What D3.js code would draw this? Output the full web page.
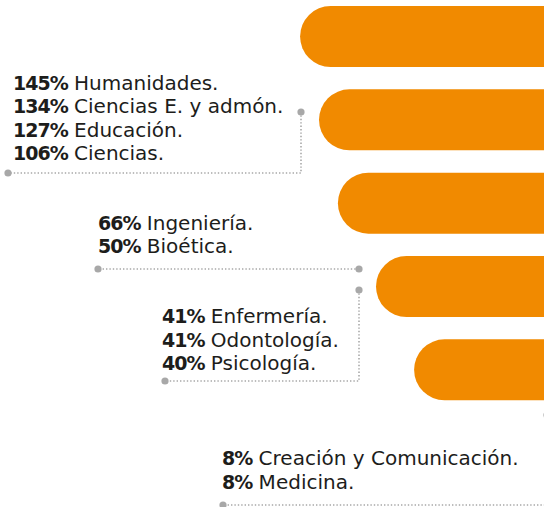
<!DOCTYPE html>
<html>
<head>
<meta charset="utf-8">
<script src="https://cdn.jsdelivr.net/npm/d3@7"></script>
<style>
  body { margin: 0; background: #fff; }
  svg { display: block; }
  text { font-family: "DejaVu Sans", sans-serif; fill: #1d1d1b; }
</style>
</head>
<body>
<div class="chart"></div>
<script>
// bars: visible length (share of a 0-100 scale)
var barIds = ["b1", "b2", "b3", "b4", "b5"];
var barValues = [81.3, 75, 68.7, 56, 43.3];

// programmes and their percentages, grouped by connector
var programs = ["Humanidades.", "Ciencias E. y admón.", "Educación.", "Ciencias.",
                "Ingeniería.", "Bioética.",
                "Enfermería.", "Odontología.", "Psicología.",
                "Creación y Comunicación.", "Medicina."];
var percents = [145, 134, 127, 106, 66, 50, 41, 41, 40, 8, 8];
var groupOf = [0, 0, 0, 0, 1, 1, 2, 2, 2, 3, 3];

var width = 544;
var height = 507;
var orange = "#f18a00";
var grey = "#a8a8a8";

var x = d3.scaleLinear().domain([0, 100]).range([width, width - 300]);
var y = d3.scaleBand().domain(barIds).range([6, 400.3]).paddingInner(0.268);

// where each group's label block and connector sit
var groups = [
  { tx: 13,  ty: 89.5,  pts: [[301, 112], [301, 173], [8, 173]] },
  { tx: 98,  ty: 229.5, pts: [[359, 269], [98, 269]] },
  { tx: 162, ty: 323,   pts: [[359, 290], [359, 381], [165, 381]] },
  { tx: 222, ty: 465,   pts: [[547, 415], [547, 505], [223, 505]] }
];
var lineStep = 23.6;

function build_svg(c) {
  return c.append("svg").attr("width", width).attr("height", height);
}

function build_bars(s) {
  s.selectAll(".bar")
    .data(barValues)
    .enter().append("rect")
    .attr("class", "bar")
    .attr("x", function(d) { return x(d); })
    .attr("y", function(d, i) { return y(barIds[i]); })
    .attr("width", function(d) { return width + 60 - x(d); })
    .attr("height", y.bandwidth())
    .attr("rx", y.bandwidth() / 2)
    .attr("fill", orange);
}

function build_connectors(s) {
  var line = d3.line();
  groups.forEach(function(g) {
    s.append("path")
      .attr("d", line(g.pts))
      .attr("fill", "none")
      .attr("stroke", grey)
      .attr("stroke-width", 1.6)
      .attr("stroke-dasharray", "1.4,2");
    var ends = [g.pts[0], g.pts[g.pts.length - 1]];
    s.selectAll(null).data(ends).enter().append("circle")
      .attr("cx", function(d) { return d[0]; })
      .attr("cy", function(d) { return d[1]; })
      .attr("r", 3.6)
      .attr("fill", grey);
  });
}

function build_labels(s) {
  var counter = [0, 0, 0, 0];
  programs.forEach(function(name, i) {
    var g = groups[groupOf[i]];
    var k = counter[groupOf[i]]++;
    var t = s.append("text")
      .attr("x", g.tx)
      .attr("y", g.ty + k * lineStep)
      .style("font-size", "20px");
    t.append("tspan")
      .style("font-weight", "bold")
      .style("font-size", "19px")
      .style("letter-spacing", "-1px")
      .text(percents[i] + "%");
    t.append("tspan").text(" " + name);
  });
}

function main() {
  var svg = build_svg(d3.select(".chart"));
  build_bars(svg);
  build_connectors(svg);
  build_labels(svg);
}

main();
</script>
</body>
</html>
